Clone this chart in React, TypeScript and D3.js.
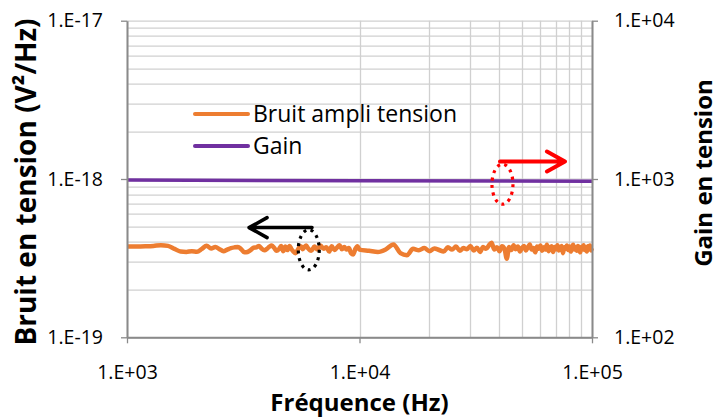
import { useEffect, useRef } from 'react';
import * as d3 from 'd3';

// axis ticks
const freqTicks = [1e3, 1e4, 1e5];
const freqTickLabels = ['1.E+03', '1.E+04', '1.E+05'];
const noiseTicks = [1e-19, 1e-18, 1e-17];
const noiseTickLabels = ['1.E-19', '1.E-18', '1.E-17'];
const gainTicks = [1e2, 1e3, 1e4];
const gainTickLabels = ['1.E+02', '1.E+03', '1.E+04'];

// Bruit ampli tension (values in 1e-19 V²/Hz)
const noiseFreq = [
  1000, 1100, 1200, 1300, 1400, 1500, 1600, 1700, 1800, 1900,
  2000, 2100, 2200, 2300, 2400, 2500, 2600, 2700, 2800, 2900,
  3000, 3100, 3200, 3300, 3400, 3500, 3600, 3700, 3800, 3900,
  4000, 4100, 4200, 4300, 4400, 4500, 4600, 4700, 4800, 4900,
  5000, 5100, 5200, 5300, 5400, 5500, 5600, 5700, 5800, 5900,
  6000, 6200, 6400, 6600, 6800, 7000, 7200, 7400, 7600, 7800,
  8000, 8200, 8400, 8600, 8800, 9000, 9200, 9400, 9600, 9800,
  10000, 11000, 12000, 13000, 14000, 15000, 16000, 17000, 18000, 19000,
  20000, 21000, 22000, 23000, 24000, 25000, 26000, 27000, 28000, 29000,
  30000, 31000, 32000, 33000, 34000, 35000, 36000, 37000, 38000, 39000,
  40000, 41000, 42000, 43000, 44000, 45000, 46000, 47000, 48000, 49000,
  50000, 51000, 52000, 53000, 54000, 55000, 56000, 57000, 58000, 59000,
  60000, 61000, 62000, 63000, 64000, 65000, 66000, 67000, 68000, 69000,
  70000, 71000, 72000, 73000, 74000, 75000, 76000, 77000, 78000, 79000,
  80000, 81000, 82000, 83000, 84000, 85000, 86000, 87000, 88000, 89000,
  90000, 91000, 92000, 93000, 94000, 95000, 96000, 97000, 98000, 99000,
  100000,
];
const noiseValue = [
  3.75, 3.75, 3.76, 3.78, 3.82, 3.78, 3.62, 3.48, 3.46, 3.50,
  3.47, 3.62, 3.79, 3.64, 3.72, 3.60, 3.50, 3.58, 3.66, 3.70,
  3.72, 3.60, 3.44, 3.46, 3.55, 3.68, 3.70, 3.78, 3.62, 3.55,
  3.62, 3.74, 3.80, 3.66, 3.52, 3.60, 3.77, 3.50, 3.74, 3.56,
  3.78, 3.60, 3.48, 3.40, 3.52, 3.70, 3.76, 3.60, 3.72, 3.80,
  3.66, 3.52, 3.74, 3.58, 3.80, 3.62, 3.70, 3.48, 3.76, 3.56,
  3.68, 3.82, 3.60, 3.72, 3.58, 3.66, 3.40, 3.34, 3.62, 3.76,
  3.58, 3.52, 3.46, 3.60, 3.86, 3.40, 3.30, 3.62, 3.55, 3.66,
  3.50, 3.64, 3.56, 3.48, 3.70, 3.58, 3.74, 3.52, 3.66, 3.60,
  3.78, 3.54, 3.68, 3.46, 3.72, 3.62, 3.80, 3.96, 3.58, 3.70,
  3.50, 3.76, 3.64, 3.14, 3.72, 3.56, 3.82, 3.60, 3.74, 3.48,
  3.68, 3.78, 3.54, 3.70, 3.86, 3.58, 3.66, 3.44, 3.74, 3.62,
  3.80, 3.52, 3.70, 3.58, 3.84, 3.50, 3.68, 3.76, 3.46, 3.72,
  3.60, 3.82, 3.54, 3.66, 3.78, 3.40, 3.70, 3.62, 3.80, 3.56,
  3.74, 3.48, 3.68, 3.84, 3.58, 3.70, 3.52, 3.78, 3.64, 3.44,
  3.72, 3.60, 3.82, 3.56, 3.70, 3.48, 3.76, 3.62, 3.80, 3.54,
  3.66,
];

// Gain (right axis)
const gainFreq = [1e3, 1e4, 1e5];
const gainValue = [985, 976, 967];

const seriesNames = ['Bruit ampli tension', 'Gain'];
const seriesColors = ['#ED7D31', '#7030A0'];

const FONT = '"Open Sans", sans-serif';

const App = () => {
  const svgRef = useRef<SVGSVGElement>(null);

  useEffect(() => {
    if (!svgRef.current) return;
    document.body.style.margin = '0';

    const svg = d3.select(svgRef.current);
    svg.selectAll('*').remove();

    const margin = { top: 20.7, right: 126, bottom: 81.7, left: 127 };
    const W = 718;
    const H = 419;
    const width = W - margin.left - margin.right;
    const height = H - margin.top - margin.bottom;

    const x = d3.scaleLog().domain([1e3, 1e5]).range([0, width]);
    const y = d3.scaleLog().domain([1e-19, 1e-17]).range([height, 0]);
    const y2 = d3.scaleLog().domain([1e2, 1e4]).range([height, 0]);

    const g = svg.append('g').attr('transform', `translate(${margin.left},${margin.top})`);

    // horizontal gridlines (every 1..9 of each decade)
    g.append('g')
      .selectAll('line')
      .data(y.ticks())
      .join('line')
      .attr('x1', 0)
      .attr('x2', width)
      .attr('y1', d => Math.round(y(d)) + 0.5)
      .attr('y2', d => Math.round(y(d)) + 0.5)
      .attr('stroke', '#d0d0d0')
      .attr('stroke-width', 1.3);

    // vertical gridlines: majors + minors of the last decade only
    const xGrid = x.ticks().filter(d => d >= 1e4 || d === 1e3);
    g.append('g')
      .selectAll('line')
      .data(xGrid)
      .join('line')
      .attr('x1', d => Math.round(x(d)) + 0.5)
      .attr('x2', d => Math.round(x(d)) + 0.5)
      .attr('y1', 0)
      .attr('y2', height)
      .attr('stroke', '#d0d0d0')
      .attr('stroke-width', 1.3);

    // series
    const noiseData = noiseFreq.map((f, i) => [f, noiseValue[i] * 1e-19] as [number, number]);
    const gainData = gainFreq.map((f, i) => [f, gainValue[i]] as [number, number]);

    g.append('path')
      .datum(noiseData)
      .attr('fill', 'none')
      .attr('stroke', seriesColors[0])
      .attr('stroke-width', 4.5)
      .attr('stroke-linejoin', 'round')
      .attr('d', d3.line<[number, number]>().x(d => x(d[0])).y(d => y(d[1])).curve(d3.curveMonotoneX));

    g.append('path')
      .datum(gainData)
      .attr('fill', 'none')
      .attr('stroke', seriesColors[1])
      .attr('stroke-width', 3.5)
      .attr('d', d3.line<[number, number]>().x(d => x(d[0])).y(d => y2(d[1])));

    // axes
    const styleAxis = (sel: d3.Selection<SVGGElement, unknown, null, undefined>) => {
      sel.select('.domain').attr('stroke', '#8a8a8a').attr('stroke-width', 2);
      sel.selectAll('.tick line').attr('stroke', '#8a8a8a').attr('stroke-width', 1.3);
      sel.selectAll('.tick text')
        .style('font-family', FONT)
        .style('font-size', '19.5px')
        .style('fill', '#000');
    };

    g.append('g')
      .call(d3.axisLeft(y).tickValues(noiseTicks).tickSize(6).tickSizeOuter(0).tickPadding(18)
        .tickFormat((_, i) => noiseTickLabels[i]))
      .call(styleAxis);

    g.append('g')
      .attr('transform', `translate(${width},0)`)
      .call(d3.axisRight(y2).tickValues(gainTicks).tickSize(6).tickSizeOuter(0).tickPadding(16)
        .tickFormat((_, i) => gainTickLabels[i]))
      .call(styleAxis);

    g.append('g')
      .attr('transform', `translate(0,${height})`)
      .call(d3.axisBottom(x).tickValues(freqTicks).tickSize(6).tickSizeOuter(0).tickPadding(22)
        .tickFormat((_, i) => freqTickLabels[i]))
      .call(styleAxis);

    // axis titles
    g.append('text')
      .attr('x', width / 2)
      .attr('y', height + 74)
      .attr('text-anchor', 'middle')
      .style('font-family', FONT)
      .style('font-weight', 700)
      .style('font-size', '24px')
      .text('Fréquence (Hz)');

    g.append('text')
      .attr('transform', `translate(${36 - margin.left},${182 - margin.top}) rotate(-90)`)
      .attr('text-anchor', 'middle')
      .style('font-family', FONT)
      .style('font-weight', 700)
      .style('font-size', '28px')
      .text('Bruit en tension (V²/Hz)');

    g.append('text')
      .attr('transform', `translate(${712 - margin.left},${173 - margin.top}) rotate(-90)`)
      .attr('text-anchor', 'middle')
      .style('font-family', FONT)
      .style('font-weight', 700)
      .style('font-size', '24px')
      .text('Gain en tension');

    // legend
    const legend = g.append('g').attr('transform', `translate(${195 - margin.left},${114 - margin.top})`);
    seriesNames.forEach((name, i) => {
      const row = legend.append('g').attr('transform', `translate(0,${i * 32})`);
      row.append('line')
        .attr('x1', 0).attr('x2', 53).attr('y1', 0).attr('y2', 0)
        .attr('stroke', seriesColors[i])
        .attr('stroke-width', 4)
        .attr('stroke-linecap', 'round');
      row.append('text')
        .attr('x', 58)
        .attr('y', 0)
        .attr('dy', '0.35em')
        .style('font-family', FONT)
        .style('font-size', '23px')
        .text(name);
    });

    // annotations: arrow + dotted ellipse showing which axis each curve uses
    const arrow = (x1: number, x2: number, yy: number, color: string, w: number) => {
      const dir = Math.sign(x2 - x1);
      const p = d3.path();
      p.moveTo(x1, yy);
      p.lineTo(x2, yy);
      p.moveTo(x2 - dir * 18, yy - 10);
      p.lineTo(x2, yy);
      p.lineTo(x2 - dir * 18, yy + 10);
      g.append('path')
        .attr('d', p.toString())
        .attr('fill', 'none')
        .attr('stroke', color)
        .attr('stroke-width', w)
        .attr('stroke-linecap', 'round')
        .attr('stroke-linejoin', 'round');
    };
    const ring = (cx: number, cy: number, color: string) => {
      g.append('ellipse')
        .attr('cx', cx).attr('cy', cy).attr('rx', 10.5).attr('ry', 20)
        .attr('fill', 'none')
        .attr('stroke', color)
        .attr('stroke-width', 3.2)
        .attr('stroke-dasharray', '3 4.5');
    };

    arrow(x(6250), x(3350), y(4.93e-19), '#000', 3.5);
    ring(x(6050), y(3.57e-19), '#000');
    arrow(x(40200), x(76500), y2(1290), '#ff0000', 4);
    ring(x(41200), y2(927), '#ff0000');
  }, []);

  return (
    <div style={{ position: 'absolute', left: 0, top: 0, background: '#fff' }}>
      <svg ref={svgRef} width={718} height={419} style={{ display: 'block' }} />
    </div>
  );
};

export default App;
